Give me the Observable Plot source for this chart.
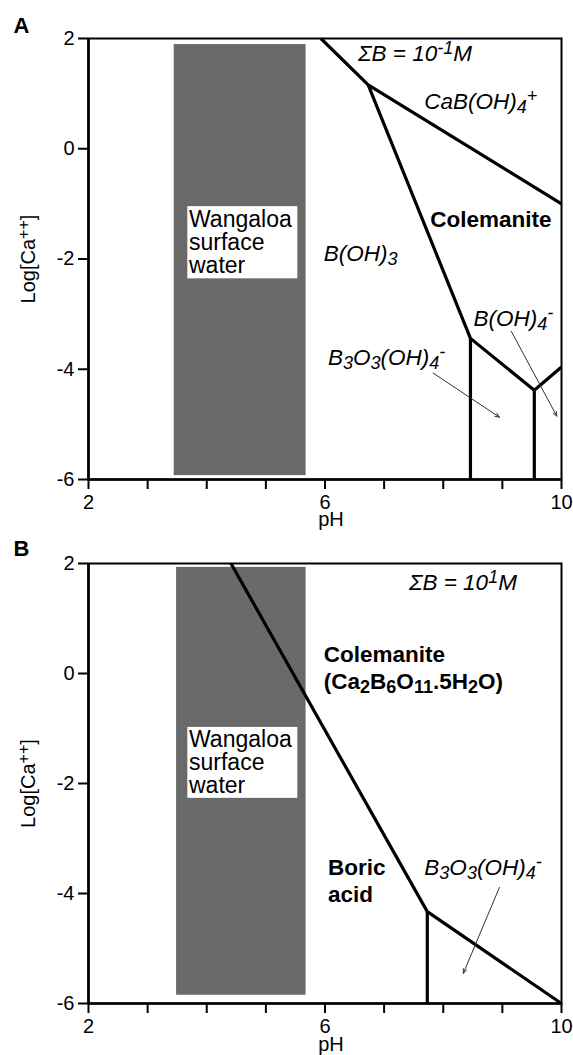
<!DOCTYPE html>
<html>
<head>
<meta charset="utf-8">
<script src="https://cdn.jsdelivr.net/npm/d3@7"></script>
<script src="https://cdn.jsdelivr.net/npm/@observablehq/plot@0.6"></script>
<style>
  body { margin: 0; background: #fff; }
  #chart svg { display: block; overflow: visible; }
  [aria-label="x-axis tick"], [aria-label="x-axis tick"] path,
  [aria-label="y-axis tick"], [aria-label="y-axis tick"] path { stroke-width: 2px; }
</style>
</head>
<body>
<div id="chart"></div>
<script>
// ---------- shared axis data ----------
const xTicks = [2, 3, 4, 5, 6, 7, 8, 9, 10];
const xTickLabels = [2, 6, 10];
const yTicks = [2, 0, -2, -4, -6];
const xLabel = "pH";
const yLabel = "Log[Ca^{++}]";
const waterLabel = "Wangaloa\nsurface\nwater";

// ---------- Panel A : ΣB = 10^-1 M ----------
const aBoundaryCaB = [[5.93, 2], [6.73, 1.16], [10, -1.0]];
const aBoundaryColemanite = [[6.73, 1.16], [8.46, -3.44], [9.54, -4.38], [10, -3.96]];
const aBoundaryB3O3 = [[8.46, -3.44], [8.46, -6]];
const aBoundaryBOH4 = [[9.54, -4.38], [9.54, -6]];
const aWaterRange = {x1: 3.45, x2: 5.68, y1: -5.93, y2: 1.89};
const aWaterLabelBox = {x1: 3.68, x2: 5.54, y1: -2.36, y2: -1.05};
const aWaterLabelAt = [3.70, -1.70];
const aItalicLabels = [
  {text: "ΣB = 10^{-1}M", pH: 6.56, logCa: 1.73},
  {text: "CaB(OH)_4^+", pH: 7.68, logCa: 0.86},
  {text: "B(OH)_3", pH: 5.98, logCa: -1.91},
  {text: "B(OH)_4^-", pH: 8.51, logCa: -3.09},
  {text: "B_3O_3(OH)_4^-", pH: 6.05, logCa: -3.80}
];
const aBoldLabels = [
  {text: "Colemanite", pH: 7.78, logCa: -1.27}
];
const aArrows = [
  {pH1: 7.83, logCa1: -4.07, pH2: 8.95, logCa2: -4.87},
  {pH1: 9.15, logCa1: -3.31, pH2: 9.92, logCa2: -4.85}
];

// ---------- Panel B : ΣB = 10^1 M ----------
const bBoundaryColemanite = [[4.41, 2], [7.73, -4.33], [10, -6]];
const bBoundaryB3O3 = [[7.73, -4.33], [7.73, -6]];
const bWaterRange = {x1: 3.49, x2: 5.68, y1: -5.85, y2: 1.93};
const bWaterLabelBox = {x1: 3.68, x2: 5.54, y1: -2.27, y2: -0.98};
const bWaterLabelAt = [3.70, -1.62];
const bItalicLabels = [
  {text: "ΣB = 10^{1}M", pH: 7.42, logCa: 1.65},
  {text: "B_3O_3(OH)_4^-", pH: 7.68, logCa: -3.53}
];
const bBoldLabels = [
  {text: "Colemanite\n(Ca_2B_6O_{11}.5H_2O)", pH: 5.98, logCa: 0.12},
  {text: "Boric\nacid", pH: 6.05, logCa: -3.75}
];
const bArrows = [
  {pH1: 8.95, logCa1: -3.89, pH2: 8.34, logCa2: -5.45}
];

const FONT = "'Liberation Sans', Arial, Helvetica, sans-serif";

function toRows(boundaries) {
  return boundaries.flatMap((pts, i) => pts.map(([pH, logCa]) => ({id: i, pH, logCa})));
}

function panel(cfg) {
  const grayColor = "#6a6a6a";
  return Plot.plot({
    width: 573,
    height: cfg.height,
    marginLeft: 88,
    marginRight: 12,
    marginTop: cfg.marginTop,
    marginBottom: cfg.marginBottom,
    style: {fontFamily: FONT, fontSize: "20px", background: "white", color: "black", overflow: "visible"},
    x: {domain: [2, 10], ticks: xTicks, tickFormat: d => xTickLabels.includes(d) ? String(d) : "",
        tickSize: 10, tickPadding: 5, label: null},
    y: {domain: [-6, 2], ticks: yTicks, tickFormat: d => String(d), tickSize: 10, tickPadding: 4, label: null},
    marks: [
      Plot.rect([cfg.water], {x1: "x1", x2: "x2", y1: "y1", y2: "y2", fill: grayColor}),
      Plot.rect([cfg.waterBox], {x1: "x1", x2: "x2", y1: "y1", y2: "y2", fill: "white"}),
      Plot.text([waterLabel], {x: cfg.waterAt[0], y: cfg.waterAt[1], text: d => d, textAnchor: "start",
        lineAnchor: "middle", fontSize: 23, lineHeight: 1.0, fill: "black"}),
      Plot.line(toRows(cfg.boundaries), {x: "pH", y: "logCa", z: "id", stroke: "black", strokeWidth: 3.2,
        strokeLinejoin: "miter", strokeLinecap: "butt"}),
      Plot.arrow(cfg.arrows, {x1: "pH1", y1: "logCa1", x2: "pH2", y2: "logCa2", stroke: "#333",
        strokeWidth: 1, headLength: 7, headAngle: 45}),
      Plot.text(cfg.italic, {x: "pH", y: "logCa", text: "text", textAnchor: "start", fontSize: 22.5,
        fontStyle: "italic", fill: "black"}),
      Plot.text(cfg.bold, {x: "pH", y: "logCa", text: "text", textAnchor: "start", fontSize: 22.5,
        fontWeight: "bold", lineHeight: 1.2, fill: "black"}),
      Plot.frame({stroke: "black", strokeWidth: 2}),
      Plot.ruleX([2], {stroke: "black", strokeWidth: 2.6}),
      Plot.ruleY([-6], {stroke: "black", strokeWidth: 2.6}),
      Plot.text([xLabel], {frameAnchor: "bottom", text: d => d, textAnchor: "middle", lineAnchor: "middle",
        dx: 6, dy: cfg.pHdy, fontSize: 20, fill: "black"}),
      Plot.text([yLabel], {frameAnchor: "left", text: d => d, textAnchor: "middle", lineAnchor: "middle",
        dx: -60, rotate: -90, fontSize: 20, fill: "black"}),
      Plot.text([cfg.letter], {frameAnchor: "top-left", text: d => d, textAnchor: "middle", lineAnchor: "middle",
        dx: -67, dy: cfg.letterDy, fontSize: 22, fontWeight: "bold", fill: "black"})
    ]
  });
}

function richText(svg) {
  const NS = "http://www.w3.org/2000/svg";
  svg.querySelectorAll("text").forEach(t => {
    const nodes = [];
    const walker = document.createTreeWalker(t, NodeFilter.SHOW_TEXT);
    while (walker.nextNode()) nodes.push(walker.currentNode);
    nodes.forEach(n => {
      const s = n.nodeValue;
      if (!/[_^]/.test(s)) return;
      const frag = document.createDocumentFragment();
      const re = /([_^])(\{[^}]*\}|.)/g;
      let last = 0, m;
      while ((m = re.exec(s))) {
        if (m.index > last) frag.appendChild(document.createTextNode(s.slice(last, m.index)));
        const ts = document.createElementNS(NS, "tspan");
        ts.setAttribute("baseline-shift", m[1] === "_" ? "-22%" : "40%");
        ts.setAttribute("font-size", "80%");
        ts.textContent = m[2].replace(/[{}]/g, "");
        frag.appendChild(ts);
        last = re.lastIndex;
      }
      if (last < s.length) frag.appendChild(document.createTextNode(s.slice(last)));
      n.parentNode.replaceChild(frag, n);
    });
  });
  return svg;
}

const chart = document.getElementById("chart");
chart.appendChild(richText(panel({
  letter: "A", letterDy: -13, height: 530, marginTop: 38, marginBottom: 51, pHdy: 40,
  boundaries: [aBoundaryCaB, aBoundaryColemanite, aBoundaryB3O3, aBoundaryBOH4],
  water: aWaterRange, waterBox: aWaterLabelBox, waterAt: aWaterLabelAt,
  italic: aItalicLabels, bold: aBoldLabels, arrows: aArrows
})));
chart.appendChild(richText(panel({
  letter: "B", letterDy: -15, height: 525, marginTop: 33, marginBottom: 52, pHdy: 41,
  boundaries: [bBoundaryColemanite, bBoundaryB3O3],
  water: bWaterRange, waterBox: bWaterLabelBox, waterAt: bWaterLabelAt,
  italic: bItalicLabels, bold: bBoldLabels, arrows: bArrows
})));
</script>
</body>
</html>
